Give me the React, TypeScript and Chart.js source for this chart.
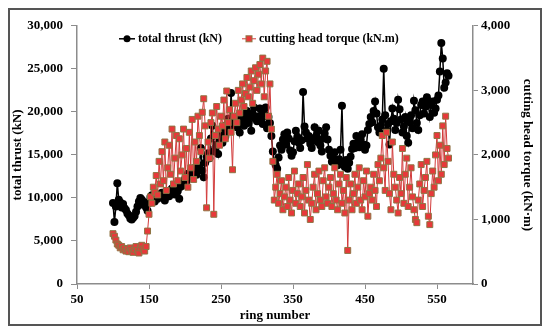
import React, { useEffect, useRef } from "react";
import { Chart, registerables } from "chart.js";

Chart.register(...registerables);

const rings: number[] = [];
for (let r = 100; r <= 566; r += 2) rings.push(r);

const thrust = [
  9400, 7200, 9000, 11700, 9800, 9500, 8900, 9300, 8800, 8600,
  8200, 8000, 7600, 7500, 7700, 7900, 8400, 9000, 9600, 10000,
  9800, 9200, 9500, 8900, 8500, 9400, 10100, 10300, 9800, 9600,
  10200, 9900, 10400, 10100, 10600, 10300, 9700, 10800, 10500, 10200,
  10900, 11100, 10600, 10400, 11200, 10800, 9900, 11300, 11700, 11500,
  12200, 11900, 12800, 12500, 13100, 12600, 12900, 13500, 12700, 13300,
  13800, 15800, 13200, 12400, 14100, 14800, 15200, 14600, 16900, 18400,
  15400, 15800, 16200, 15100, 16800, 17300, 16400, 17800, 17100, 18500,
  19200, 17800, 22200, 18600, 19300, 18800, 18200, 19500, 17600, 18900,
  19600, 18400, 19100, 20100, 18700, 19400, 17800, 19800, 20500, 19200,
  18900, 19500, 20400, 19100, 18600, 19800, 20500, 18100, 19400, 18700,
  17200, 15400, 14200, 13800, 13400, 14700, 16100, 15600, 16800, 17400,
  16200, 17600, 16900, 15500, 14900, 15300, 16600, 17800, 17100, 16400,
  15800, 16700, 22300, 18300, 17600, 16900, 17200, 16300, 15800, 16900,
  18200, 17100, 16500, 17800, 16100, 15400, 16900, 17500, 18200, 16800,
  15600, 14900, 14200, 14600, 15300, 14100, 13800, 14500, 15600, 20700,
  14200, 13600, 14400, 13400, 14100, 14800, 15700, 16300, 15800, 17200,
  16400, 15900, 16800, 17400, 16200, 15600, 16100, 17900, 18600, 19400,
  18800, 20100, 21200, 19800, 18200, 17600, 18400, 19100, 25000, 19600,
  17800, 18600, 16200, 18900, 20400, 19200, 17900, 18700, 21400, 20300,
  19100, 17600, 18300, 19400, 17200, 16400, 18800, 19600, 18100, 21300,
  20200, 18700, 17900, 19600, 20800, 21200, 19800, 20600, 21700, 20900,
  19400, 20800, 21200, 19900, 20400, 21400, 21900, 24700, 28000, 26200,
  22800, 23400, 24500, 24200,
];

const torque = [
  780, 740, 680, 620, 600, 560, 580, 530, 550, 510,
  540, 500, 560, 520, 490, 540, 580, 520, 480, 560,
  600, 540, 510, 580, 820, 1080, 1350, 1250, 1500, 1420,
  1680, 1380, 1900, 1550, 2050, 1600, 2200, 1450, 1800, 2150,
  1700, 2400, 1550, 1950, 2300, 1600, 2250, 1750, 2000, 2400,
  1650, 2100, 1500, 2350, 1800, 2550, 1620, 2200, 1900, 2600,
  2300, 2050, 2660, 2870, 2450, 1180, 2200, 1950, 2500, 2650,
  1080, 2300, 2750, 2400, 2150, 2600, 2450, 2850, 2250, 2990,
  2500, 2700, 2350, 1770, 2600, 2800, 2500, 3000, 2650, 2850,
  3100, 2750, 2950, 3200, 2900, 3050, 3300, 2800, 3150, 3350,
  3000, 3250, 3400, 3100, 3500, 2900, 3300, 3450, 2600, 3100,
  2400, 1900, 1300, 1500, 1700, 1250, 1400, 1600, 1150, 1350,
  1500, 1200, 1650, 1300, 1100, 1450, 1750, 1250, 1400, 1550,
  1200, 1350, 1650, 1100, 1450, 1850, 1300, 1000, 1250, 1500,
  1700, 1150, 1400, 1750, 1300, 1200, 1600, 1800, 1350, 1250,
  1500, 1650, 1200, 1400, 1800, 1300, 1150, 1550, 1700, 1250,
  1450, 1100, 1650, 520, 1300, 1550, 1150, 1400, 1700, 1250,
  1500, 1800, 1300, 1150, 1600, 1350, 1750, 1050, 1400, 1500,
  1300, 1700, 1450, 1200, 1850, 1600, 1950, 2300, 1800, 1450,
  2350, 1900, 1400, 1150, 2200, 1700, 1500, 1300, 1100, 1650,
  1400, 2100, 1250, 1700, 1950, 1200, 1500, 1800, 1350, 1150,
  1000, 950, 1300, 1550, 1850, 1200, 1450, 1650, 1900, 1050,
  920, 1400, 1750, 1500, 2000, 2300, 1600, 2150, 1700, 2450,
  1850, 2600, 2100, 1950,
];

const xTicks = [50, 150, 250, 350, 450, 550];
const thrustLabel = "total thrust (kN)";
const torqueLabel = "cutting head torque (kN.m)";

const FONT = "'Liberation Serif', 'Times New Roman', serif";
const AXIS = "#8c8c8c";
const TQ_FILL = "#e8383a";
const TQ_EDGE = "#8f7444";
const TQ_LINE = "#d23a3a";

const legendPlugin = {
  id: "customLegend",
  afterDraw(chart: any) {
    const ctx = chart.ctx;
    const { left, top } = chart.chartArea;
    const y = top + 13;
    ctx.save();
    ctx.font = `bold 12px ${FONT}`;
    ctx.textBaseline = "middle";
    ctx.fillStyle = "#000";
    let x0 = left + 42;
    ctx.strokeStyle = "#000";
    ctx.lineWidth = 1.5;
    ctx.beginPath();
    ctx.moveTo(x0, y);
    ctx.lineTo(x0 + 16, y);
    ctx.stroke();
    ctx.beginPath();
    ctx.arc(x0 + 8, y, 3.5, 0, Math.PI * 2);
    ctx.fill();
    ctx.fillText(thrustLabel, x0 + 19, y);
    x0 = left + 165;
    ctx.strokeStyle = TQ_LINE;
    ctx.lineWidth = 1;
    ctx.beginPath();
    ctx.moveTo(x0, y);
    ctx.lineTo(x0 + 14, y);
    ctx.stroke();
    ctx.fillStyle = TQ_FILL;
    ctx.strokeStyle = TQ_EDGE;
    ctx.fillRect(x0 + 4, y - 3, 6, 6);
    ctx.strokeRect(x0 + 4, y - 3, 6, 6);
    ctx.fillStyle = "#000";
    ctx.fillText(torqueLabel, x0 + 17, y);
    ctx.restore();
  },
};

export default function App() {
  const ref = useRef<HTMLCanvasElement | null>(null);
  useEffect(() => {
    if (!ref.current) return;
    const tickFont = { family: FONT, size: 13, weight: "bold" as const };
    const chart = new Chart(ref.current, {
      type: "line",
      data: {
        datasets: [
          {
            label: thrustLabel,
            data: rings.map((r, i) => ({ x: r, y: thrust[i] })),
            yAxisID: "y",
            borderColor: "#000",
            backgroundColor: "#000",
            borderWidth: 1.5,
            pointRadius: 4,
            pointBorderWidth: 0,
            pointBackgroundColor: "#000",
            tension: 0,
            order: 1,
          },
          {
            label: torqueLabel,
            data: rings.map((r, i) => ({ x: r, y: torque[i] })),
            yAxisID: "y1",
            borderColor: TQ_LINE,
            backgroundColor: TQ_FILL,
            borderWidth: 1,
            pointStyle: "rect",
            pointRadius: 4.2,
            pointBorderWidth: 1,
            pointBackgroundColor: TQ_FILL,
            pointBorderColor: TQ_EDGE,
            tension: 0,
            order: 0,
          },
        ],
      },
      options: {
        animation: false,
        responsive: true,
        maintainAspectRatio: false,
        layout: { padding: { top: 12, left: 0, right: 0, bottom: 0 } },
        plugins: { legend: { display: false }, tooltip: { enabled: false } },
        scales: {
          x: {
            type: "linear",
            min: 50,
            max: 600,
            afterBuildTicks: (s: any) => {
              s.ticks = xTicks.map((v) => ({ value: v }));
            },
            afterFit: (s: any) => {
              s.height = 40;
            },
            grid: { display: true, drawOnChartArea: false, drawTicks: true, tickLength: 5, color: AXIS },
            border: { display: true, color: AXIS, width: 1.5 },
            ticks: { font: tickFont, color: "#000", padding: 3, maxRotation: 0 },
            title: { display: true, text: "ring number", font: { family: FONT, size: 13, weight: "bold" }, color: "#000", padding: { top: 0, bottom: 1 } },
          },
          y: {
            type: "linear",
            position: "left",
            min: 0,
            max: 30000,
            afterFit: (s: any) => {
              s.width = 67;
            },
            ticks: {
              stepSize: 5000,
              font: tickFont,
              color: "#000",
              padding: 8,
              callback: (v: any) => Number(v).toLocaleString("en-US"),
            },
            grid: { display: true, drawOnChartArea: false, drawTicks: true, tickLength: 6, color: AXIS },
            border: { display: true, color: AXIS, width: 1.5 },
            title: { display: true, text: "total thrust (kN)", font: { family: FONT, size: 13, weight: "bold" }, color: "#000", padding: { top: 0, bottom: 0 } },
          },
          y1: {
            type: "linear",
            position: "right",
            min: 0,
            max: 4000,
            afterFit: (s: any) => {
              s.width = 67;
            },
            ticks: {
              stepSize: 1000,
              font: tickFont,
              color: "#000",
              padding: 3,
              callback: (v: any) => Number(v).toLocaleString("en-US"),
            },
            grid: { display: true, drawOnChartArea: false, drawTicks: true, tickLength: 5, color: AXIS },
            border: { display: true, color: AXIS, width: 1.5 },
            title: { display: true, text: "cutting head torque (kN·m)", font: { family: FONT, size: 13, weight: "bold" }, color: "#000", padding: { top: 5, bottom: 0 } },
          },
        },
      },
      plugins: [legendPlugin],
    } as any);
    return () => chart.destroy();
  }, []);

  return (
    <div
      style={{
        width: 534,
        height: 318,
        boxSizing: "border-box",
        border: "2px solid #555",
        background: "#fff",
      }}
    >
      <div style={{ position: "relative", width: "100%", height: "100%" }}>
        <canvas ref={ref} />
      </div>
    </div>
  );
}
